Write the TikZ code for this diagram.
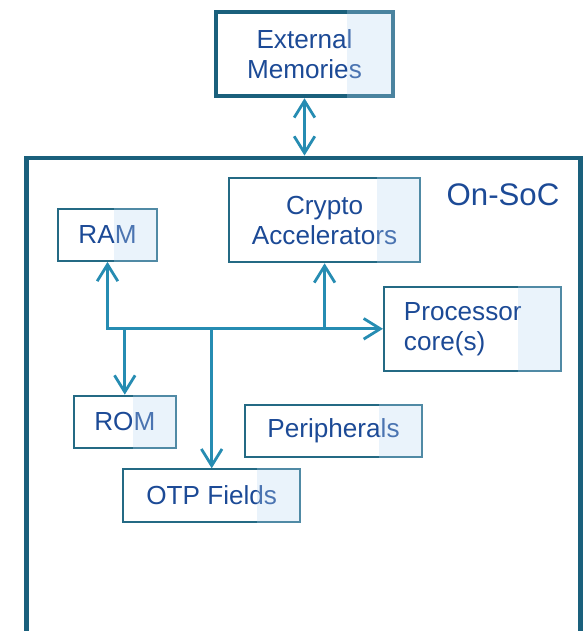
\documentclass[tikz,border=0pt]{standalone}
\usepackage{fontspec}
\setmainfont{Liberation Sans}
\usetikzlibrary{arrows.meta}
\definecolor{txtblue}{RGB}{28,74,150}
\definecolor{edgeteal}{RGB}{36,106,132}
\definecolor{darkteal}{RGB}{26,96,124}
\definecolor{linkblue}{RGB}{38,140,178}
\definecolor{stripblue}{RGB}{185,215,242}
\newcommand{\boxfont}{\fontsize{19.6}{22.5}\selectfont}

\tikzset{
  blk/.style={draw=edgeteal, line width=1.5pt, text=txtblue, font=\boxfont,
    align=center, inner sep=0pt},
  link/.style={linkblue, line width=2.1pt},
  strip/.style={fill=stripblue, fill opacity=0.3},
  >={Straight Barb[length=12.5pt,width=15.5pt]}
}

\begin{document}
\begin{tikzpicture}[x=0.75pt,y=-0.75pt]
\useasboundingbox (0,0) rectangle (583,631);
\clip (0,0) rectangle (583,631);
% boxes
\node[blk,draw=darkteal,line width=3.4pt,minimum width=132.75pt,minimum height=63pt]
  (ext) at (304.5,54) {External\\Memories};
\node[draw=darkteal,line width=3.6pt,minimum width=415.5pt,minimum height=450pt]
  (soc) at (303.5,458) {};
\node[text=txtblue,font=\fontsize{23.4}{27}\selectfont] (soclabel) at (503,195) {On-SoC};
\node[blk,minimum width=74.7pt,minimum height=38.8pt] (ram) at (107.5,235) {RAM};
\node[blk,minimum width=143pt,minimum height=63pt] (crypto) at (324.6,220.3) {Crypto\\Accelerators};
\node[blk,minimum width=132.5pt,minimum height=63.2pt,text width=102.5pt,
  inner xsep=15pt,align=left] (cpu) at (472.3,328.8) {Processor\\core(s)};
\node[blk,minimum width=76.3pt,minimum height=39.2pt] (rom) at (124.8,421.8) {ROM};
\node[blk,minimum width=132.3pt,minimum height=39.2pt] (peri) at (333.5,431.2) {Peripherals};
\node[blk,minimum width=132.5pt,minimum height=39.3pt] (otp) at (211.7,495.5) {OTP Fields};

% connectors
\draw[link,<->] (ext.south) -- (ext.south |- soc.north);
\draw[link,<->] (ram.south) -- (ram.south |- cpu.west) -- (cpu.west);
\draw[link,->] (crypto.south |- cpu.west) -- (crypto.south);
\draw[link,->] (rom.north |- cpu.west) -- (rom.north);
\draw[link,->] (otp.north |- cpu.west) -- (otp.north);

% light strips on the right of the boxes
\fill[strip] ([xshift=-36pt]ext.north east) rectangle (ext.south east);
\foreach \b in {ram,crypto,cpu,rom,peri,otp}
  \fill[strip] ([xshift=-33pt]\b.north east) rectangle (\b.south east);
\end{tikzpicture}
\end{document}
